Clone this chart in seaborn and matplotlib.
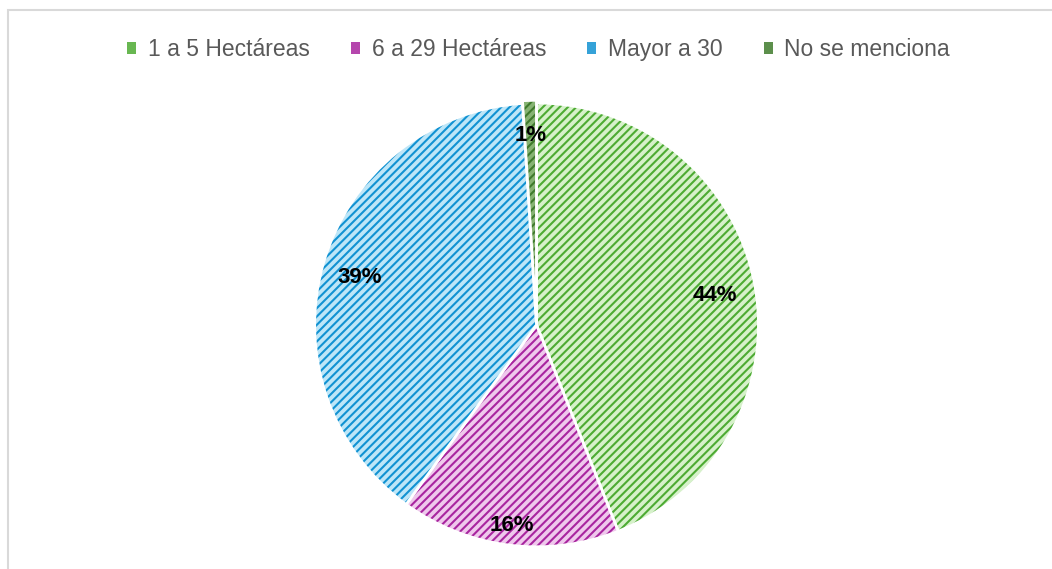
import matplotlib
matplotlib.use("Agg")
import numpy as np
import matplotlib.pyplot as plt
import seaborn as sns
from matplotlib.patches import Patch, Rectangle

# datos
categorias = ["1 a 5 Hectáreas", "6 a 29 Hectáreas", "Mayor a 30", "No se menciona"]
porcentajes = [44, 16, 39, 1]
relleno = ["#d6f1ca", "#efc8ec", "#bde6f8", "#86b373"]
trama = ["#4dab33", "#a8259f", "#1192d2", "#3f7b2c"]
dist_etiqueta = [0.82, 0.89, 0.83, 0.86]

sns.set_theme(style="white")
plt.rcParams['font.family'] = ['Liberation Sans', 'DejaVu Sans']
plt.rcParams['hatch.linewidth'] = 1.5

fig = plt.figure(figsize=(10.52, 5.69), dpi=100)
ax = fig.add_axes([0.299, 0.039, 0.422, 0.780])

wedges, texts, autotexts = ax.pie(
    porcentajes, startangle=90, counterclock=False, radius=1,
    autopct=lambda p: f"{p:.0f}%", pctdistance=0.84,
    explode=[0, 0, 0, 0.012],
    wedgeprops=dict(edgecolor="white", linewidth=2),
    textprops=dict(fontsize=16, fontweight="bold", color="black"))

for w, f, h, t, d in zip(wedges, relleno, trama, autotexts, dist_etiqueta):
    w.set_facecolor(f)
    w.set_hatch("////")
    w._hatch_color = matplotlib.colors.to_rgba(h)
    ang = np.deg2rad((w.theta1 + w.theta2) / 2)
    cx, cy = w.center
    # un poco mas abajo, como en el original
    t.set_position((cx + d * np.cos(ang), cy + d * np.sin(ang) - 0.02))

ax.set_xlim(-1, 1)
ax.set_ylim(-1, 1)
ax.set_aspect("equal")
ax.axis("off")

handles = [Patch(facecolor=h, edgecolor="none", alpha=0.85) for h in trama]
leg = fig.legend(handles, categorias, loc="center", bbox_to_anchor=(0.512, 0.913),
                 ncol=4, frameon=False, fontsize=16.5, handlelength=0.4, handleheight=0.4,
                 handletextpad=0.5, columnspacing=1.8)
for t in leg.get_texts():
    t.set_color("#595959")

# borde del area del grafico (cortado a derecha y abajo)
fig.patches.append(Rectangle((8 / 1052, -0.1), 1.2, 1 - 10 / 569 + 0.1,
                             transform=fig.transFigure, fill=False,
                             edgecolor="#d9d9d9", linewidth=1.5))

fig.savefig("out.png", dpi=100)
